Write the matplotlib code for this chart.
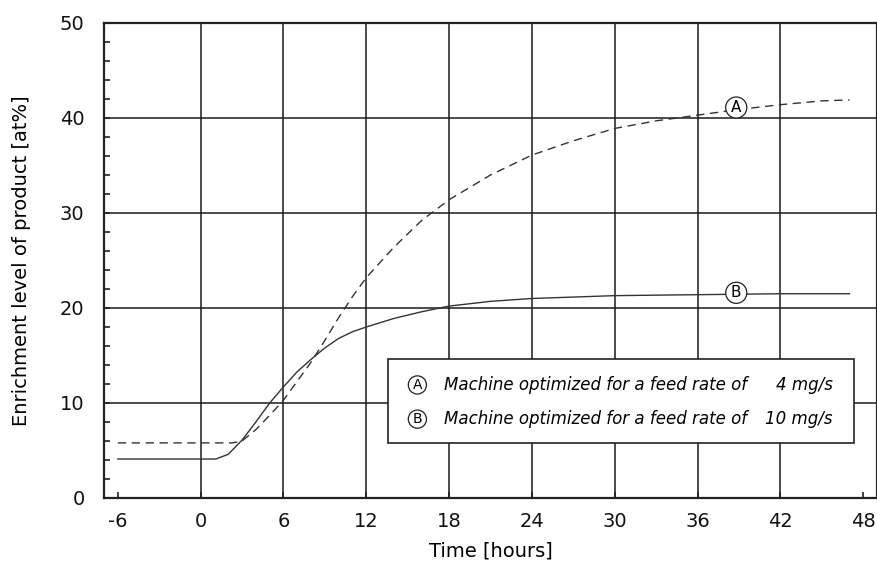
import matplotlib
matplotlib.use("Agg")
import matplotlib.pyplot as plt
from matplotlib.patches import Rectangle
from matplotlib.ticker import MultipleLocator

plt.rcParams['font.family'] = ['DejaVu Sans']
plt.rcParams['axes.unicode_minus'] = False

# curve A: machine optimized for 4 mg/s (dashed)
time_a = [-6, 0, 2.3, 3, 4, 5, 6, 7, 8, 9, 10, 11, 12, 14, 16, 18, 21, 24,
          27, 30, 33, 36, 39, 42, 45, 47]
enrich_a = [5.8, 5.8, 5.8, 6.0, 7.2, 8.7, 10.3, 12.3, 14.3, 16.6, 19.0, 21.2,
            23.2, 26.4, 29.2, 31.4, 34.0, 36.1, 37.6, 38.9, 39.7, 40.3, 40.9,
            41.4, 41.8, 41.9]

# curve B: machine optimized for 10 mg/s (solid)
time_b = [-6, 0, 1.1, 2, 3, 4, 5, 6, 7, 8, 9, 10, 11, 12, 14, 16, 18, 21, 24,
          30, 36, 42, 47]
enrich_b = [4.1, 4.1, 4.1, 4.6, 6.1, 8.0, 10.0, 11.7, 13.3, 14.6, 15.8, 16.8,
            17.5, 18.0, 18.9, 19.6, 20.2, 20.7, 21.0, 21.3, 21.4, 21.5, 21.5]

x_ticks = [-6, 0, 6, 12, 18, 24, 30, 36, 42, 48]
y_ticks = [0, 10, 20, 30, 40, 50]
legend_rows = [("A", "4 mg/s"), ("B", "10 mg/s")]

fig = plt.figure(figsize=(8.78, 5.69), dpi=100)
ax = fig.add_axes([0.1185, 0.1248, 0.8804, 0.8348])
ax.set_xlim(-7, 49)
ax.set_ylim(0, 50)

# grid lines only in the interior
for x in x_ticks[1:-1]:
    ax.axvline(x, color="#1a1a1a", lw=1.1, zorder=1)
for y in y_ticks[1:-1]:
    ax.axhline(y, color="#1a1a1a", lw=1.1, zorder=1)

ax.plot(time_a, enrich_a, color="#333333", lw=1.0, ls=(0, (6, 4)), zorder=3)
ax.plot(time_b, enrich_b, color="#333333", lw=1.0, zorder=3)

circ = dict(boxstyle="circle,pad=0.2", fc="white", ec="#222222", lw=0.9)
ax.text(38.8, 41.1, "A", ha="center", va="center", fontsize=11, bbox=circ, zorder=4)
ax.text(38.8, 21.6, "B", ha="center", va="center", fontsize=11, bbox=circ, zorder=4)

# legend box
ax.add_patch(Rectangle((13.6, 5.8), 33.7, 8.8, fc="white", ec="#222222", lw=1.2, zorder=5))
for (letter, rate), y in zip(legend_rows, [11.9, 8.3]):
    ax.text(15.7, y, letter, ha="center", va="center", fontsize=10,
            bbox=dict(circ, boxstyle="circle,pad=0.15"), zorder=6)
    ax.text(17.6, y, "Machine optimized for a feed rate of", ha="left", va="center",
            fontsize=12, style="italic", zorder=6)
    ax.text(45.8, y, rate, ha="right", va="center", fontsize=12, style="italic", zorder=6)

ax.set_xticks(x_ticks)
ax.set_yticks(y_ticks)
ax.yaxis.set_minor_locator(MultipleLocator(2))
ax.tick_params(which="both", direction="in", labelsize=14, width=1.2, color="#222222",
               labelcolor="#111111")
ax.tick_params(which="major", length=4)
ax.tick_params(which="minor", length=4)
ax.tick_params(axis="y", pad=14)
ax.tick_params(axis="x", pad=10)
for s in ax.spines.values():
    s.set_linewidth(1.6)
    s.set_color("#222222")

ax.set_xlabel("Time [hours]", fontsize=14, labelpad=8)
ax.set_ylabel("Enrichment level of product [at%]", fontsize=14, labelpad=21)

fig.savefig("out.png", dpi=100)
